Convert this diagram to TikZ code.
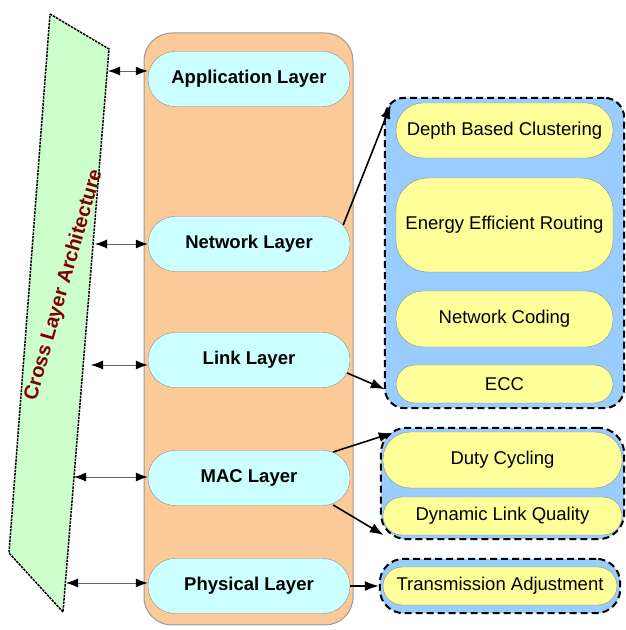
\documentclass[tikz,border=0pt]{standalone}
\usepackage{fontspec}
\setmainfont{Liberation Sans}
\usepackage{tikz}
\usetikzlibrary{shapes,arrows,arrows.meta}
\usetikzlibrary{backgrounds,fit}
\definecolor{stackorange}{RGB}{252,202,152}
\definecolor{layercyan}{RGB}{204,255,255}
\definecolor{crossgreen}{RGB}{204,255,204}
\definecolor{groupblue}{RGB}{153,204,255}
\definecolor{itemyellow}{RGB}{255,255,153}
\definecolor{crossred}{RGB}{128,0,0}
\tikzstyle{layer} = [rectangle, rounded corners=27pt, minimum width=202pt, minimum height=55pt, inner sep=0pt, text centered, draw=black!45, fill=layercyan, font=\fontsize{18.5}{21}\selectfont\bfseries]
\tikzstyle{item} = [rectangle, rounded corners=27pt, minimum width=217pt, minimum height=55pt, inner sep=0pt, text centered, draw=black!45, fill=itemyellow, font=\fontsize{18.5}{21}\selectfont]
\tikzstyle{group} = [rectangle, rounded corners=20pt, draw=black, line width=2pt, dash pattern=on 7pt off 4pt, fill=groupblue]
\tikzstyle{arrow} = [line width=1.6pt, -{Latex[length=14pt,width=10pt]}]
\tikzstyle{link} = [line width=0.8pt, draw=black!60, {Latex[length=12pt,width=9pt,color=black]}-{Latex[length=12pt,width=9pt,color=black]}]

\begin{document}
\begin{tikzpicture}[x=1pt, y=1pt, node distance=100pt]
\useasboundingbox (0,0) rectangle (625,630);

% cross layer plane
\coordinate (gtl) at (50,616);
\coordinate (gtr) at (109,581);
\coordinate (gbr) at (63,18);
\coordinate (gbl) at (9,77);
\draw [fill=crossgreen, line width=1.5pt, dash pattern=on 2.5pt off 1pt] (gtl) -- (gtr) -- (gbr) -- (gbl) -- cycle;
\node (cla) [rotate=74, text=crossred, font=\fontsize{20}{23}\selectfont\bfseries] at (64,345) {Cross Layer Architecture};

% layer stack
\node (stack) [rectangle, rounded corners=28pt, minimum width=209pt, minimum height=592pt, draw=black!40, line width=1pt, fill=stackorange] at (248.5,301) {};

% nodes
\node (app) [layer] at (249,551) {Application Layer};
\node (net) [layer, below of=app, yshift=-65pt] {Network Layer};
\node (lnk) [layer, below of=net, yshift=-16pt] {Link Layer};
\node (mac) [layer, below of=lnk, yshift=-18pt] {MAC Layer};
\node (phy) [layer, below of=mac, yshift=-8pt] {Physical Layer};

\node (dbc) [item] at (504.5,499.5) {Depth Based Clustering};
\node (eer) [item, below of=dbc, yshift=5.5pt, minimum height=94pt, rounded corners=32pt] {Energy Efficient Routing};
\node (nc) [item, below of=eer, yshift=6pt, minimum height=56pt] {Network Coding};
\node (ecc) [item, below of=nc, yshift=35pt, minimum height=38pt, rounded corners=19pt] {ECC};

\node (duty) [item, minimum width=239pt, minimum height=56pt] at (502.5,170) {Duty Cycling};
\node (dlq) [item, below of=duty, yshift=44pt, minimum width=239pt, minimum height=38pt, rounded corners=19pt] {Dynamic Link Quality};

\node (tra) [item, minimum width=234pt, minimum height=38pt, rounded corners=19pt] at (500,44) {Transmission Adjustment};

% groups
\begin{scope}[on background layer]
\node (netgrp) [group, fit=(dbc)(ecc), inner xsep=11pt, inner ysep=5pt] {};
\node (macgrp) [group, fit=(duty)(dlq), inner xsep=2pt, inner ysep=4pt, rounded corners=26pt] {};
\node (phygrp) [group, fit=(tra), inner xsep=3pt, inner ysep=8pt, rounded corners=24pt] {};
\end{scope}

% edge points on the plane
\coordinate (ca) at (108,559);
\coordinate (cn) at (95,386);
\coordinate (cl) at (91,265);
\coordinate (cm) at (74,153);
\coordinate (cp) at (66,47);

%edges
\draw [link] (ca) -- (ca -| app.west);
\draw [link] (cn) -- (cn -| net.west);
\draw [link] (cl) -- (cl -| lnk.west);
\draw [link] (cm) -- (cm -| mac.west);
\draw [link] (cp) -- (cp -| phy.west);

\draw [arrow] ([xshift=-7pt, yshift=19pt]net.east) -- ([xshift=7pt, yshift=-8pt]netgrp.north west);
\draw [arrow] ([xshift=-3pt, yshift=-13pt]lnk.east) -- ([xshift=1pt, yshift=20pt]netgrp.south west);
\draw [arrow] ([xshift=-17pt, yshift=26pt]mac.east) -- ([xshift=13pt, yshift=-6pt]macgrp.north west);
\draw [arrow] ([xshift=-17pt, yshift=-27pt]mac.east) -- ([xshift=4pt, yshift=5pt]macgrp.south west);
\draw [arrow] (phy.east) -- (phygrp.west);

\end{tikzpicture}
\end{document}
